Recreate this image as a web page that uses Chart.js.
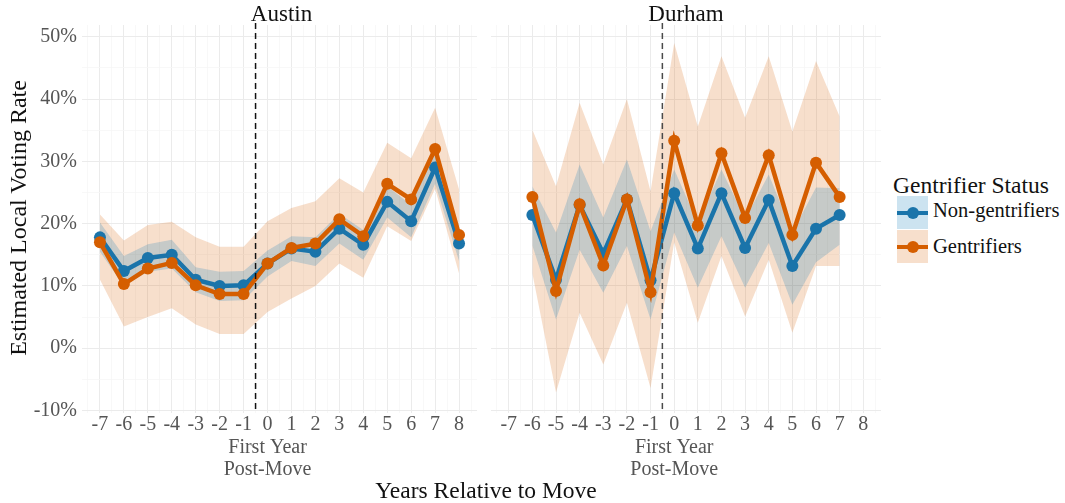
<!DOCTYPE html>
<html>
<head>
<meta charset="utf-8">
<script src="https://cdn.jsdelivr.net/npm/chart.js@4.4.1/dist/chart.umd.min.js"></script>
<style>
  html, body { margin: 0; padding: 0; background: #fff; }
  body {
    width: 1065px; height: 503px; position: relative; overflow: hidden;
    font-family: "Liberation Serif", "Times New Roman", serif; color: #111;
  }
  canvas { position: absolute; top: 0; }
  .txt { position: absolute; white-space: nowrap; }
  .strip { top: 0; font-size: 23px; line-height: 28px; text-align: center; }
  .key { position: absolute; left: 897px; width: 31px; height: 33px; }
  .key .ln { position: absolute; left: 0; right: 0; top: 14.5px; height: 4px; }
  .key .dot { position: absolute; left: 9.5px; top: 10.5px; width: 12px; height: 12px; border-radius: 50%; }
</style>
</head>
<body>
<canvas id="austin" width="483" height="503" style="left:0"></canvas>
<canvas id="durham" width="402" height="503" style="left:485px"></canvas>

<div class="txt strip" style="left:82px;width:399px">Austin</div>
<div class="txt strip" style="left:487px;width:398px">Durham</div>

<div class="txt" style="left:-182px;top:204px;width:400px;height:28px;line-height:28px;font-size:24px;text-align:center;transform:rotate(-90deg)">Estimated Local Voting Rate</div>
<div class="txt" style="left:286px;top:476px;width:400px;line-height:28px;font-size:23.5px;text-align:center">Years Relative to Move</div>

<div class="txt" style="left:893px;top:171px;line-height:28px;font-size:23.5px">Gentrifier Status</div>
<div class="key" style="top:196px;background:rgba(0,114,178,0.2)"><div class="ln" style="background:#1a74aa"></div><div class="dot" style="background:#1a74aa"></div></div>
<div class="txt" style="left:933px;top:197px;line-height:26px;font-size:20.5px">Non-gentrifiers</div>
<div class="key" style="top:230px;background:rgba(213,94,0,0.2)"><div class="ln" style="background:#d55e00"></div><div class="dot" style="background:#d55e00"></div></div>
<div class="txt" style="left:933px;top:233px;line-height:26px;font-size:20.5px">Gentrifiers</div>

<script>
// years relative to move
const austinYears = [-7, -6, -5, -4, -3, -2, -1, 0, 1, 2, 3, 4, 5, 6, 7, 8];
const durhamYears = [-6, -5, -4, -3, -2, -1, 0, 1, 2, 3, 4, 5, 6, 7];

// Austin estimates (%)
const austinNon   = [17.8, 12.4, 14.5, 15.0, 11.0, 10.0, 10.1, 13.6, 16.0, 15.5, 19.2, 16.6, 23.5, 20.4, 29.0, 16.8];
const austinNonLo = [15.5, 10.0, 12.3, 12.8,  9.0,  7.6,  7.7, 11.5, 14.0, 13.2, 16.8, 14.2, 21.0, 17.8, 26.4, 14.0];
const austinNonHi = [20.2, 14.8, 16.7, 17.4, 13.0, 12.3, 12.4, 15.7, 18.0, 17.8, 21.6, 19.0, 26.0, 23.0, 31.6, 19.6];
const austinGen   = [17.0, 10.3, 12.8, 13.7, 10.1,  8.7,  8.7, 13.6, 16.1, 16.8, 20.7, 18.0, 26.4, 23.9, 32.0, 18.2];
const austinGenLo = [11.0,  3.5,  5.0,  6.4,  3.8,  2.3,  2.3,  5.8,  8.0, 10.0, 13.6, 11.3, 19.6, 17.2, 25.6, 12.0];
const austinGenHi = [21.5, 17.3, 19.8, 20.3, 17.8, 16.3, 16.3, 20.4, 22.5, 23.6, 27.3, 25.0, 33.0, 30.5, 38.6, 25.5];

// Durham estimates (%)
const durhamNon   = [21.4, 11.0, 23.0, 15.2, 23.9, 10.9, 24.9, 16.0, 24.9, 16.1, 23.8, 13.2, 19.2, 21.4];
const durhamNonLo = [16.5,  4.6, 15.8,  8.9, 16.4,  4.6, 18.6,  9.7, 18.0,  9.7, 16.9,  7.0, 13.8, 16.6];
const durhamNonHi = [26.0, 18.6, 29.5, 21.0, 30.3, 18.8, 28.7, 20.1, 28.7, 20.7, 27.9, 18.6, 25.8, 25.7];
const durhamGen   = [24.3,  9.2, 23.1, 13.3, 23.9,  9.0, 33.3, 19.7, 31.3, 20.9, 31.0, 18.2, 29.8, 24.3];
const durhamGenLo = [12.0, -7.1,  5.7, -2.6,  7.3, -6.4, 17.0,  4.1, 14.8,  5.1, 14.2,  2.5, 13.2, 13.2];
const durhamGenHi = [35.1, 26.0, 39.4, 29.5, 40.0, 25.2, 49.0, 35.6, 46.9, 37.0, 46.9, 34.8, 46.1, 37.2];

// axes
const xMajorTicks = [-7, -6, -5, -4, -3, -2, -1, 0, 1, 2, 3, 4, 5, 6, 7, 8];
const xTickLabels = ['-7', '-6', '-5', '-4', '-3', '-2', '-1', '0', '1', '2', '3', '4', '5', '6', '7', '8'];
const xMinorTicks = [-7.5, -6.5, -5.5, -4.5, -3.5, -2.5, -1.5, -0.5, 0.5, 1.5, 2.5, 3.5, 4.5, 5.5, 6.5, 7.5, 8.5];
const moveLabel = ['First Year', 'Post-Move'];
const yMajorTicks = [-10, 0, 10, 20, 30, 40, 50];
const yTickLabels = ['-10%', '0%', '10%', '20%', '30%', '40%', '50%'];
const yMinorTicks = [-5, 5, 15, 25, 35, 45];
const moveYear = -0.5;

const BLUE = '#1a74aa';
const ORANGE = '#d55e00';
const BLUE_FILL = 'rgba(0,114,178,0.2)';
const ORANGE_FILL = 'rgba(213,94,0,0.2)';
const FONT = '"Liberation Serif", "Times New Roman", serif';

const pts = (xs, ys) => xs.map((x, i) => ({ x, y: ys[i] }));
const sortTicks = (a, b) => a.concat(b).sort((p, q) => p - q);

// dashed vertical line at the move
const moveLine = {
  id: 'moveLine',
  afterDatasetsDraw(chart, args, opts) {
    const { ctx, chartArea, scales } = chart;
    const x = scales.x.getPixelForValue(opts.value);
    ctx.save();
    ctx.beginPath();
    ctx.setLineDash([6, 4]);
    ctx.lineWidth = 1.5;
    ctx.strokeStyle = opts.color;
    ctx.moveTo(x, chartArea.top - 2);
    ctx.lineTo(x, chartArea.bottom);
    ctx.stroke();
    ctx.restore();
  }
};

function makePanel(id, years, non, nonLo, nonHi, gen, genLo, genHi, showY, dashColor, pad) {
  const lineStyle = (color) => ({
    borderColor: color,
    backgroundColor: color,
    borderWidth: 4.5,
    pointRadius: 6,
    pointHoverRadius: 6,
    pointBorderWidth: 0,
    pointBackgroundColor: color,
    fill: false,
    tension: 0
  });
  const band = { borderWidth: 0, pointRadius: 0, tension: 0 };

  return new Chart(document.getElementById(id), {
    type: 'line',
    data: {
      datasets: [
        { label: 'Gentrifiers', data: pts(years, gen), order: 0, ...lineStyle(ORANGE) },
        { label: 'Non-gentrifiers', data: pts(years, non), order: 1, ...lineStyle(BLUE) },
        { label: 'nonLo', data: pts(years, nonLo), order: 2, fill: false, ...band },
        { label: 'nonHi', data: pts(years, nonHi), order: 3, fill: '-1', backgroundColor: BLUE_FILL, ...band },
        { label: 'genLo', data: pts(years, genLo), order: 4, fill: false, ...band },
        { label: 'genHi', data: pts(years, genHi), order: 5, fill: '-1', backgroundColor: ORANGE_FILL, ...band }
      ]
    },
    options: {
      responsive: false,
      animation: false,
      devicePixelRatio: 1,
      layout: { padding: { top: 25, right: 2, left: pad, bottom: 0 } },
      plugins: {
        legend: { display: false },
        tooltip: { enabled: false },
        moveLine: { value: moveYear, color: dashColor }
      },
      scales: {
        x: {
          type: 'linear',
          min: -7.75,
          max: 8.75,
          afterBuildTicks: (s) => { s.ticks = sortTicks(xMajorTicks, xMinorTicks).map(v => ({ value: v })); },
          afterFit: (s) => { s.height = 90; },
          border: { display: false },
          grid: {
            drawTicks: false,
            color: (c) => (c.tick && xMajorTicks.includes(c.tick.value)) ? '#ebebeb' : '#f6f6f6',
            lineWidth: (c) => (c.tick && xMajorTicks.includes(c.tick.value)) ? 1 : 0.8
          },
          ticks: {
            autoSkip: false,
            maxRotation: 0,
            minRotation: 0,
            padding: 1,
            color: '#555',
            font: { family: FONT, size: 20, lineHeight: 1.12 },
            callback: (v) => {
              const i = xMajorTicks.indexOf(v);
              if (i < 0) return '';
              return v === 0 ? [xTickLabels[i]].concat(moveLabel) : xTickLabels[i];
            }
          }
        },
        y: {
          min: -10.4,
          max: 51.9,
          afterBuildTicks: (s) => { s.ticks = sortTicks(yMajorTicks, yMinorTicks).map(v => ({ value: v })); },
          afterFit: (s) => { s.width = showY ? 82 : 0; },
          border: { display: false },
          grid: {
            drawTicks: false,
            color: (c) => (c.tick && yMajorTicks.includes(c.tick.value)) ? '#ebebeb' : '#f6f6f6',
            lineWidth: (c) => (c.tick && yMajorTicks.includes(c.tick.value)) ? 1 : 0.8
          },
          ticks: {
            display: showY,
            padding: 5,
            color: '#555',
            font: { family: FONT, size: 20 },
            callback: (v) => {
              const i = yMajorTicks.indexOf(v);
              return i < 0 ? '' : yTickLabels[i];
            }
          }
        }
      }
    },
    plugins: [moveLine]
  });
}

makePanel('austin', austinYears, austinNon, austinNonLo, austinNonHi,
  austinGen, austinGenLo, austinGenHi, true, '#111', 0);
makePanel('durham', durhamYears, durhamNon, durhamNonLo, durhamNonHi,
  durhamGen, durhamGenLo, durhamGenHi, false, '#4a4a4a', 2);
</script>
</body>
</html>
